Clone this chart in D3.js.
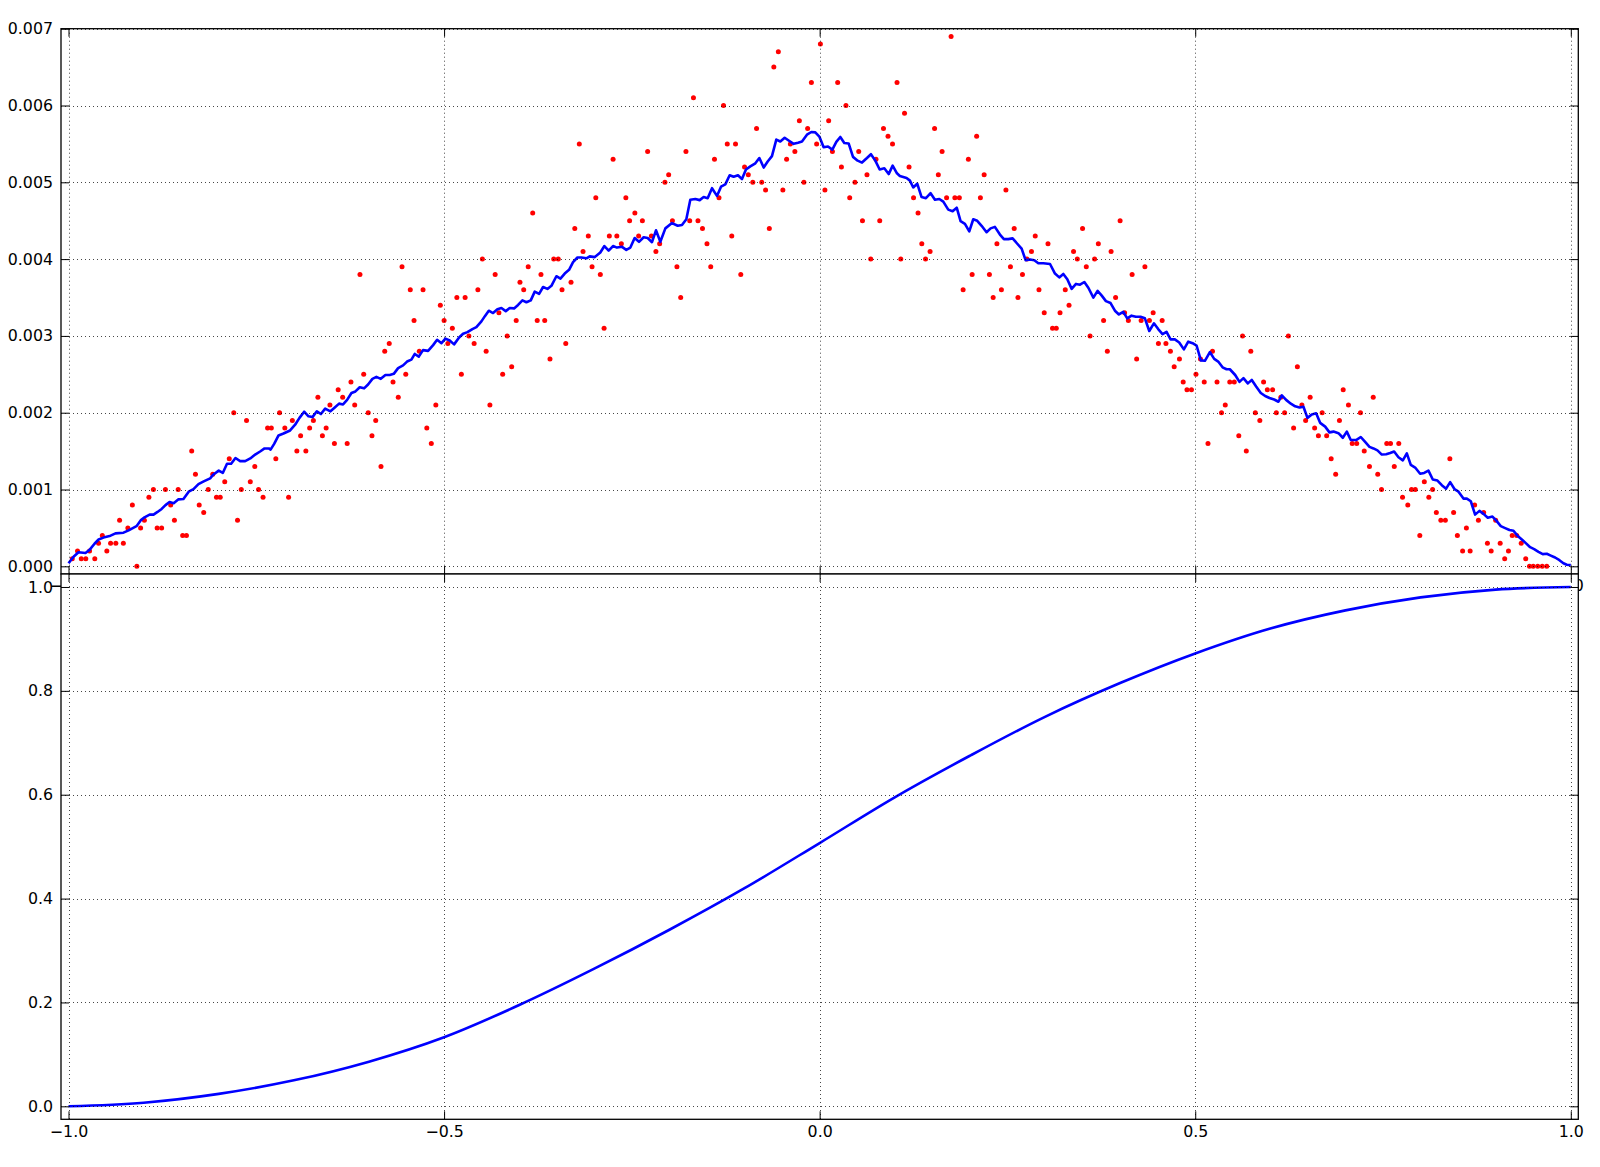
<!DOCTYPE html>
<html>
<head>
<meta charset="utf-8">
<script src="https://cdn.jsdelivr.net/npm/d3@7"></script>
<style>
  html, body { margin: 0; padding: 0; background: #fff; }
  svg { display: block; }
</style>
</head>
<body>
<svg id="chart" width="1600" height="1167"></svg>
<script>
// ---------------- DATA ----------------
// Red points (histogram values)
const dotX = [
  -0.995,-0.988,-0.983,-0.977,-0.972,-0.965,-0.960,-0.955,-0.949,-0.944,
  -0.937,-0.932,-0.927,-0.921,-0.915,-0.909,-0.904,-0.899,-0.893,-0.887,
  -0.882,-0.876,-0.871,-0.864,-0.859,-0.854,-0.848,-0.843,-0.836,-0.831,
  -0.826,-0.820,-0.814,-0.808,-0.803,-0.798,-0.792,-0.786,-0.780,-0.775,
  -0.770,-0.763,-0.758,-0.752,-0.747,-0.741,-0.735,-0.730,-0.724,-0.719,
  -0.712,-0.707,-0.702,-0.696,-0.691,-0.684,-0.679,-0.674,-0.668,-0.662,
  -0.657,
  -0.652,-0.646,-0.641,-0.635,-0.629,-0.624,-0.619,-0.612,-0.607,-0.601,
  -0.596,-0.591,-0.584,-0.579,-0.573,-0.568,-0.561,-0.556,-0.551,-0.545,
  -0.540,-0.533,-0.528,-0.523,-0.517,-0.511,-0.505,-0.500,-0.495,-0.489,
  -0.483,-0.477,-0.472,-0.467,-0.460,-0.455,-0.449,-0.444,-0.439,-0.432,
  -0.427,-0.422,-0.416,-0.410,-0.404,-0.399,-0.394,-0.388,-0.382,-0.376,
  -0.371,-0.366,-0.359,-0.354,-0.348,-0.343,-0.338,-0.331,-0.326,-0.320,
  -0.315,-0.308,-0.303,-0.298,-0.292,-0.287,-0.280,-0.275,-0.270,-0.264,
  -0.258,-0.253,
  -0.246,-0.241,-0.236,-0.229,-0.224,-0.218,-0.213,-0.206,-0.201,-0.196,
  -0.190,-0.185,-0.178,-0.173,-0.168,-0.162,-0.156,-0.150,-0.145,-0.140,
  -0.134,-0.128,-0.123,-0.117,-0.112,-0.105,-0.100,-0.095,-0.089,-0.084,
  -0.077,-0.072,-0.067,-0.061,-0.055,-0.049,-0.044,-0.039,-0.033,-0.027,
  -0.021,-0.016,-0.011,-0.004,0.001,0.007,0.012,0.017,0.024,0.029,
  0.035,0.040,0.047,0.052,0.057,0.063,0.068,0.075,0.080,0.085,
  0.091,0.097,0.103,0.108,0.113,0.119,0.125,0.131,0.136,0.141,
  0.147,
  0.153,0.158,0.163,0.169,0.175,0.180,0.186,0.191,0.198,0.203,
  0.209,0.214,0.219,0.226,0.231,0.236,0.242,0.248,0.254,0.259,
  0.264,0.270,0.276,0.282,0.287,0.292,0.299,0.304,0.310,0.315,
  0.320,0.327,0.332,0.338,0.343,0.350,0.355,0.360,0.366,0.371,
  0.378,0.383,0.388,0.394,0.400,0.406,0.411,0.416,0.422,0.428,
  0.433,0.439,0.444,0.451,0.456,0.461,0.467,0.472,0.479,0.484,
  0.489,0.495,0.501,0.507,0.512,0.517,0.523,0.529,0.535,0.540,
  0.546,
  0.552,0.558,0.563,0.568,0.574,0.580,0.586,0.591,0.596,0.603,
  0.608,0.614,0.619,0.624,0.631,0.636,0.642,0.647,0.653,0.659,
  0.664,0.669,0.675,0.681,0.687,0.692,0.697,0.704,0.709,0.715,
  0.720,0.725,0.732,0.737,0.743,0.748,0.755,0.760,0.765,0.771,
  0.776,0.783,0.788,0.793,0.799,0.805,0.811,0.816,0.821,0.827,
  0.833,0.839,0.844,0.849,0.856,0.861,0.866,0.872,0.877,0.884,
  0.889,0.894,0.900,0.906,0.912,0.917,0.922,0.928,0.934,0.940,
  0.945,0.950,0.956,0.962,0.968
];
const dotY = [
  0.0001,0.0002,0.0001,0.0001,0.0002,0.0001,0.0003,0.0004,0.0002,0.0003,
  0.0003,0.0006,0.0003,0.0005,0.0008,0.0000,0.0005,0.0006,0.0009,0.0010,
  0.0005,0.0005,0.0010,0.0008,0.0006,0.0010,0.0004,0.0004,0.0015,0.0012,
  0.0008,0.0007,0.0010,0.0012,0.0009,0.0009,0.0011,0.0014,0.0020,0.0006,
  0.0010,0.0019,0.0011,0.0013,0.0010,0.0009,0.0018,0.0018,0.0014,0.0020,
  0.0018,0.0009,0.0019,0.0015,0.0017,0.0015,0.0018,0.0019,0.0022,0.0017,
  0.0018,
  0.0021,0.0016,0.0023,0.0022,0.0016,0.0024,0.0021,0.0038,0.0025,0.0020,
  0.0017,0.0019,0.0013,0.0028,0.0029,0.0024,0.0022,0.0039,0.0025,0.0036,
  0.0032,0.0028,0.0036,0.0018,0.0016,0.0021,0.0034,0.0032,0.0029,0.0031,
  0.0035,0.0025,0.0035,0.0030,0.0029,0.0036,0.0040,0.0028,0.0021,0.0038,
  0.0033,0.0025,0.0030,0.0026,0.0032,0.0037,0.0036,0.0039,0.0046,0.0032,
  0.0038,0.0032,0.0027,0.0040,0.0040,0.0036,0.0029,0.0037,0.0044,0.0055,
  0.0041,0.0043,0.0039,0.0048,0.0038,0.0031,0.0043,0.0053,0.0043,0.0042,
  0.0048,0.0045,
  0.0046,0.0043,0.0045,0.0054,0.0043,0.0041,0.0042,0.0050,0.0051,0.0045,
  0.0039,0.0035,0.0054,0.0045,0.0061,0.0045,0.0044,0.0042,0.0039,0.0053,
  0.0048,0.0060,0.0055,0.0043,0.0055,0.0038,0.0052,0.0051,0.0050,0.0057,
  0.0050,0.0049,0.0044,0.0065,0.0067,0.0049,0.0053,0.0055,0.0054,0.0058,
  0.0050,0.0057,0.0063,0.0055,0.0068,0.0049,0.0058,0.0054,0.0063,0.0052,
  0.0060,0.0048,0.0050,0.0054,0.0045,0.0051,0.0040,0.0053,0.0045,0.0057,
  0.0056,0.0055,0.0063,0.0040,0.0059,0.0052,0.0048,0.0046,0.0042,0.0040,
  0.0041,
  0.0057,0.0051,0.0054,0.0048,0.0069,0.0048,0.0048,0.0036,0.0053,0.0038,
  0.0056,0.0048,0.0051,0.0038,0.0035,0.0042,0.0036,0.0049,0.0039,0.0044,
  0.0035,0.0038,0.0040,0.0041,0.0043,0.0036,0.0033,0.0042,0.0031,0.0031,
  0.0033,0.0036,0.0034,0.0041,0.0040,0.0044,0.0039,0.0030,0.0040,0.0042,
  0.0032,0.0028,0.0041,0.0035,0.0045,0.0033,0.0032,0.0038,0.0027,0.0032,
  0.0039,0.0032,0.0033,0.0029,0.0032,0.0029,0.0028,0.0026,0.0027,0.0024,
  0.0023,0.0023,0.0025,0.0027,0.0024,0.0016,0.0028,0.0024,0.0020,0.0021,
  0.0024,
  0.0024,0.0017,0.0030,0.0015,0.0028,0.0020,0.0019,0.0024,0.0023,0.0023,
  0.0020,0.0022,0.0020,0.0030,0.0018,0.0026,0.0021,0.0019,0.0022,0.0018,
  0.0017,0.0020,0.0017,0.0014,0.0012,0.0019,0.0023,0.0021,0.0016,0.0016,
  0.0020,0.0015,0.0013,0.0022,0.0012,0.0010,0.0016,0.0016,0.0013,0.0016,
  0.0009,0.0008,0.0010,0.0010,0.0004,0.0011,0.0009,0.0010,0.0007,0.0006,
  0.0006,0.0014,0.0007,0.0004,0.0002,0.0005,0.0002,0.0008,0.0006,0.0007,
  0.0003,0.0002,0.0006,0.0003,0.0001,0.0002,0.0004,0.0004,0.0003,0.0001,
  0.0000,0.0000,0.0000,0.0000,0.0000
];

// Blue smoothed curve (top panel)
const lineX = [
  -1.0,-0.9933,-0.9867,-0.9774,-0.972,-0.9654,-0.960,-0.9534,-0.944,-0.9374,
  -0.9268,-0.920,-0.9095,-0.904,-0.8988,-0.892,-0.8868,-0.8815,-0.876,-0.8709,
  -0.8655,-0.860,-0.8536,-0.847,-0.840,-0.8336,-0.827,-0.820,-0.8114,-0.807,
  -0.800,-0.7946,-0.789,-0.7835,-0.7777,-0.7715,-0.7648,-0.758,-0.7515,-0.7449,
  -0.739,-0.7333,-0.731,-0.7262,-0.7204,-0.7138,-0.705,-0.6983,-0.6925,-0.6863,
  -0.6805,-0.6752,-0.6694,-0.664,-0.6583,
  -0.6513,-0.6455,-0.6398,-0.6345,-0.6291,-0.6233,-0.618,-0.6123,-0.6065,-0.6012,
  -0.5954,-0.5901,-0.5843,-0.5781,-0.5723,-0.567,-0.5612,-0.5546,-0.5493,-0.5435,
  -0.539,-0.5337,-0.528,-0.5213,-0.5146,-0.5093,-0.5035,-0.4982,-0.4925,-0.4867,
  -0.48,-0.4747,-0.4689,-0.4623,-0.457,-0.4503,-0.4459,-0.4405,-0.4348,-0.429,
  -0.4237,-0.4179,-0.4126,-0.4068,-0.4015,-0.3957,-0.3904,-0.3846,-0.3793,-0.3735,
  -0.3682,-0.3624,-0.3571,-0.3505,-0.3451,-0.3394,-0.3336,-0.3283,-0.3225,-0.3172,
  -0.3105,-0.3061,-0.2994,
  -0.292,-0.2866,-0.2809,-0.2751,-0.2698,-0.2631,-0.2574,-0.252,-0.2463,-0.2405,
  -0.2343,-0.229,-0.2232,-0.2179,-0.2121,-0.2054,-0.1966,-0.189,-0.1833,-0.1775,
  -0.1722,-0.1655,-0.1597,-0.1544,-0.1491,-0.1433,-0.1367,-0.1313,-0.1256,-0.1198,
  -0.1145,-0.1087,-0.1034,-0.0981,-0.0923,-0.0856,-0.0803,-0.0745,-0.0692,-0.0635,
  -0.0577,-0.0524,-0.0466,-0.0408,-0.0346,-0.0288,-0.0235,-0.0169,-0.0111,-0.0058,
  -0.0004,0.0053,0.0111,0.0169,0.0222,0.0275,0.0328,0.0386,0.0444,0.0506,
  0.0564,0.063,0.0683,0.0741,0.0799,0.0861,0.0919,0.0972,0.1029,
  0.1068,0.1157,0.1202,0.1246,0.1299,0.1357,0.1415,0.1477,0.1535,0.1593,
  0.1646,0.1712,0.1770,0.1825,0.1876,0.1934,0.1992,0.2045,0.2098,0.2156,
  0.2222,0.2276,0.2333,0.2400,0.2453,0.2511,0.2569,0.2631,0.2689,0.2742,
  0.2800,0.2858,0.2911,0.2978,0.3067,0.3133,0.3190,0.3244,0.3297,0.3355,
  0.3413,0.3466,0.3524,0.3577,0.3644,0.3700,0.3753,0.3811,0.3873,0.3931,
  0.3984,0.4042,0.4095,0.4152,0.4210,0.4272,0.4330,0.4388,0.4450,0.4507,
  0.4565,0.4618,0.4672,0.4729,0.4787,0.4849,0.4907,0.4965,0.5018,0.5075,
  0.5129,0.5195,0.5253,0.5306,0.5364,0.5417,0.5461,
  0.5532,0.5589,0.5642,0.5700,0.5753,0.5811,0.5873,0.5931,0.5989,0.6051,
  0.6108,0.6153,0.6210,0.6273,0.6330,0.6388,0.6441,0.6494,0.6552,0.6610,
  0.6663,0.6730,0.6787,0.6841,0.6907,0.6965,0.7018,0.7071,0.7142,0.7204,
  0.7262,0.7320,0.7373,0.7426,0.7484,0.7542,0.7595,0.7648,0.7706,0.7764,
  0.7817,0.7870,0.7928,0.7994,0.8048,0.8105,0.8163,0.8225,0.8283,0.8340,
  0.8394,0.8451,0.8505,0.8571,0.8616,0.8669,0.8726,0.8784,0.8838,0.8895,
  0.8957,0.9006,0.9068,0.9126,0.9184,0.9237,0.9290,0.9348,0.9405,0.9459,
  0.9512,0.9570,0.9627,0.9681,0.9734,0.9791,0.9849,0.9902,0.9947,1.0
];
const lineY = [
  0.000040,0.000125,0.000184,0.000174,0.000214,0.000294,0.000349,0.000374,0.000399,0.000429,
  0.000438,0.000468,0.000523,0.000598,0.000638,0.000673,0.000673,0.000708,0.000747,0.000797,
  0.000837,0.000822,0.000872,0.000877,0.000972,0.001006,0.001071,0.001106,0.001146,0.001196,
  0.001246,0.001216,0.001335,0.001335,0.001410,0.001370,0.001370,0.001405,0.001455,0.001495,
  0.001535,0.001535,0.001520,0.001594,0.001704,0.001729,0.001769,0.001844,0.001933,0.002013,
  0.001953,0.001943,0.002018,0.001983,0.002053,
  0.002018,0.002068,0.002118,0.002108,0.002167,0.002257,0.002277,0.002332,0.002317,0.002367,
  0.002441,0.002466,0.002441,0.002491,0.002491,0.002506,0.002581,0.002616,0.002666,0.002691,
  0.002765,0.002730,0.002815,0.002805,0.002880,0.002950,0.002905,0.002965,0.002940,0.002890,
  0.002980,0.003029,0.003049,0.003089,0.003114,0.003189,0.003254,0.003328,0.003298,0.003348,
  0.003363,0.003323,0.003363,0.003358,0.003403,0.003463,0.003438,0.003463,0.003577,0.003548,
  0.003637,0.003612,0.003652,0.003777,0.003747,0.003812,0.003861,0.003961,0.004021,0.004021,
  0.004011,0.004036,0.004026,
  0.004086,0.004170,0.004111,0.004170,0.004150,0.004160,0.004121,0.004150,0.004275,0.004225,
  0.004285,0.004275,0.004220,0.004375,0.004225,0.004400,0.004469,0.004434,0.004444,0.004519,
  0.004773,0.004783,0.004768,0.004808,0.004793,0.004923,0.004823,0.004943,0.004973,0.005092,
  0.005072,0.005092,0.005042,0.005167,0.005207,0.005247,0.005316,0.005192,0.005271,0.005341,
  0.005556,0.005531,0.005580,0.005541,0.005501,0.005516,0.005531,0.005620,0.005655,0.005650,
  0.005595,0.005456,0.005466,0.005426,0.005526,0.005590,0.005511,0.005506,0.005331,0.005282,
  0.005257,0.005316,0.005366,0.005282,0.005167,0.005182,0.005107,0.005217,0.005117,
  0.005082,0.005057,0.005022,0.004933,0.004983,0.004808,0.004793,0.004858,0.004773,0.004783,
  0.004748,0.004644,0.004624,0.004669,0.004494,0.004459,0.004360,0.004519,0.004499,0.004434,
  0.004350,0.004400,0.004420,0.004320,0.004260,0.004260,0.004270,0.004200,0.004136,0.003986,
  0.003996,0.003986,0.003946,0.003946,0.003936,0.003812,0.003762,0.003807,0.003737,0.003612,
  0.003677,0.003667,0.003702,0.003627,0.003498,0.003587,0.003528,0.003453,0.003428,0.003328,
  0.003279,0.003313,0.003229,0.003264,0.003249,0.003249,0.003229,0.003064,0.003164,0.003089,
  0.003024,0.003054,0.002955,0.002955,0.002915,0.002825,0.002925,0.002905,0.002875,0.002681,
  0.002676,0.002790,0.002701,0.002666,0.002591,0.002566,0.002566,
  0.002491,0.002402,0.002451,0.002382,0.002427,0.002342,0.002257,0.002217,0.002192,0.002172,
  0.002143,0.002227,0.002167,0.002118,0.002083,0.002068,0.002078,0.001933,0.001978,0.001993,
  0.001868,0.001819,0.001744,0.001754,0.001734,0.001674,0.001754,0.001644,0.001644,0.001684,
  0.001619,0.001555,0.001535,0.001510,0.001455,0.001460,0.001475,0.001495,0.001420,0.001380,
  0.001470,0.001320,0.001286,0.001206,0.001216,0.001246,0.001131,0.001116,0.001056,0.001011,
  0.001096,0.001006,0.000972,0.000882,0.000882,0.000847,0.000673,0.000722,0.000683,0.000633,
  0.000648,0.000598,0.000523,0.000498,0.000473,0.000463,0.000399,0.000349,0.000299,0.000249,
  0.000224,0.000189,0.000159,0.000164,0.000140,0.000115,0.000080,0.000040,0.000020,0.000015
];

// Cumulative curve (bottom panel)
const cdfX = [-1.0,-0.9,-0.8,-0.7,-0.6,-0.5,-0.4,-0.3,-0.2,-0.1,0.0,0.1,0.2,0.3,0.4,0.5,0.6,0.7,0.8,0.9,1.0];
const cdfY = [0.000,0.007,0.024,0.050,0.086,0.133,0.195,0.265,0.340,0.420,0.507,0.595,0.675,0.750,0.815,0.872,0.920,0.955,0.980,0.995,1.000];

// Ticks
const xTicks = [-1.0,-0.5,0.0,0.5,1.0];
const xTickLabels = ["\u22121.0","\u22120.5","0.0","0.5","1.0"];
const topYTicks = [0.000,0.001,0.002,0.003,0.004,0.005,0.006,0.007];
const topYTickLabels = ["0.000","0.001","0.002","0.003","0.004","0.005","0.006","0.007"];
const botYTicks = [0.0,0.2,0.4,0.6,0.8,1.0];
const botYTickLabels = ["0.0","0.2","0.4","0.6","0.8","1.0"];

// ---------------- LAYOUT ----------------
const L = 61, R = 1578.3;
const T1 = 28.7, B1 = 574;
const T2 = 574, B2 = 1119.3;
const FONT = "DejaVu Sans";
const FS = "15.8px";
const TICK = 8;

const svg = d3.select("#chart");

const x = d3.scaleLinear().domain([-1.01, 1.01]).range([L, R]);
const y1 = d3.scaleLinear().domain([-0.0001, 0.007]).range([B1, T1]);
const y2 = d3.scaleLinear().domain([-0.025, 1.025]).range([B2, T2]);

function styleAxis(g) {
  g.select(".domain").remove();
  g.attr("font-family", FONT).attr("font-size", FS);
  g.selectAll(".tick line").attr("stroke", "#000").attr("stroke-width", 1);
  g.selectAll(".tick text").attr("fill", "#000");
}

function drawPanel(yScale, top, bottom, yTicks, yLabels, drawData) {
  const g = svg.append("g");
  g.append("rect").attr("x", L).attr("y", top).attr("width", R - L).attr("height", bottom - top)
    .attr("fill", "#fff");

  drawData(g);

  // grid (dotted)
  const grid = g.append("g").attr("stroke", "#000").attr("stroke-width", 0.9)
    .attr("stroke-dasharray", "1,3").attr("opacity", 0.8);
  grid.selectAll("line.h").data(yTicks).join("line")
    .attr("x1", L).attr("x2", R)
    .attr("y1", d => Math.round(yScale(d)) + 0.5).attr("y2", d => Math.round(yScale(d)) + 0.5);
  grid.selectAll("line.v").data(xTicks).join("line")
    .attr("y1", top).attr("y2", bottom)
    .attr("x1", d => Math.round(x(d)) + 0.5).attr("x2", d => Math.round(x(d)) + 0.5);

  // axes with inward ticks
  const fmtY = (d, i) => yLabels[i];
  const fmtX = (d, i) => xTickLabels[i];
  g.append("g").attr("transform", `translate(${L},0)`)
    .call(d3.axisLeft(yScale).tickValues(yTicks).tickFormat(fmtY).tickSizeInner(-TICK).tickSizeOuter(0).tickPadding(8))
    .call(styleAxis);
  g.append("g").attr("transform", `translate(${R},0)`)
    .call(d3.axisRight(yScale).tickValues(yTicks).tickFormat("").tickSizeInner(-TICK).tickSizeOuter(0))
    .call(styleAxis);
  g.append("g").attr("transform", `translate(0,${top})`)
    .call(d3.axisTop(x).tickValues(xTicks).tickFormat("").tickSizeInner(-TICK).tickSizeOuter(0))
    .call(styleAxis);
  g.append("g").attr("transform", `translate(0,${bottom})`)
    .call(d3.axisBottom(x).tickValues(xTicks).tickFormat(fmtX).tickSizeInner(-TICK).tickSizeOuter(0).tickPadding(6))
    .call(styleAxis);

  // frame
  g.append("rect").attr("x", L).attr("y", top).attr("width", R - L).attr("height", bottom - top)
    .attr("fill", "none").attr("stroke", "#000").attr("stroke-width", 1.3);
  return g;
}

// Top panel
drawPanel(y1, T1, B1, topYTicks, topYTickLabels, g => {
  const dots = d3.range(dotX.length).map(i => [dotX[i], dotY[i]]);
  g.append("g").attr("fill", "#ff0000")
    .selectAll("circle").data(dots).join("circle")
    .attr("cx", d => x(d[0])).attr("cy", d => y1(d[1])).attr("r", 2.5);
  const pts = d3.range(lineX.length).map(i => [lineX[i], lineY[i]]);
  g.append("path").datum(pts)
    .attr("fill", "none").attr("stroke", "#0000ff").attr("stroke-width", 2.6)
    .attr("stroke-linejoin", "round")
    .attr("d", d3.line().x(d => x(d[0])).y(d => y1(d[1])));
});

// Bottom panel (its background hides the top panel's x tick labels)
drawPanel(y2, T2, B2, botYTicks, botYTickLabels, g => {
  const pts = d3.range(cdfX.length).map(i => [cdfX[i], cdfY[i]]);
  g.append("path").datum(pts)
    .attr("fill", "none").attr("stroke", "#0000ff").attr("stroke-width", 2.6)
    .attr("d", d3.line().curve(d3.curveCatmullRom.alpha(0.5)).x(d => x(d[0])).y(d => y2(d[1])));
});
</script>
</body>
</html>
